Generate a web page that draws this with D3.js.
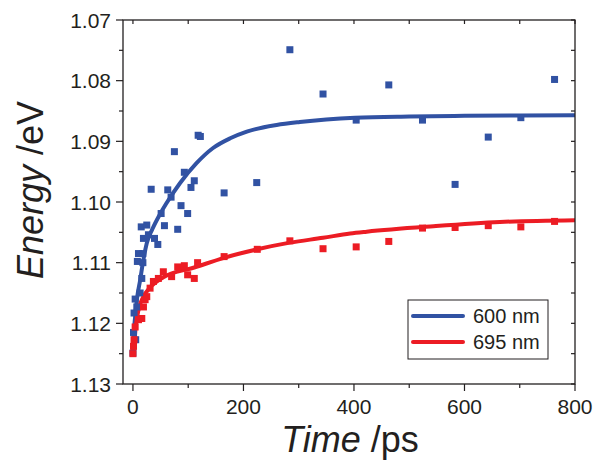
<!DOCTYPE html>
<head>
<meta charset='utf-8'>
<style>
  body { margin: 0; background: #fff; font-family: Arial, 'Liberation Sans', sans-serif; }
  .tick-label { font-size: 21px; fill: #231f20; }
</style>
</head>
<body>
<div id='vis'></div>
<script src='https://d3js.org/d3.v7.min.js'></script>
<script>
  // 600 nm data points
  const blueTime   = [0, 1, 5, 2, 4, 7, 13, 16, 8, 10, 18, 18, 15, 25, 19, 28, 39, 45, 33, 51, 57, 63, 69, 75, 81, 87, 93, 99, 105, 111, 118, 122, 165, 224, 284, 344, 404, 463, 524, 583, 643, 702, 763]
  const blueEnergy = [1.1249, 1.1215, 1.1227, 1.1183, 1.1160, 1.1173, 1.1150, 1.1126, 1.1098, 1.1085, 1.1085, 1.1100, 1.1041, 1.1038, 1.1060, 1.1054, 1.1060, 1.1070, 1.0979, 1.1019, 1.1039, 1.0980, 1.0992, 1.0917, 1.1045, 1.1006, 1.0951, 1.1019, 1.0976, 1.0965, 1.0890, 1.0892, 1.0985, 1.0968, 1.0749, 1.0822, 1.0865, 1.0807, 1.0865, 1.0971, 1.0893, 1.0861, 1.0798]

  // 695 nm data points
  const redTime   = [0, 1, 2, 4, 10, 16, 19, 22, 25, 31, 37, 46, 55, 70, 81, 93, 99, 111, 117, 165, 225, 284, 344, 404, 463, 524, 583, 643, 702, 763]
  const redEnergy = [1.1250, 1.1238, 1.1227, 1.1206, 1.1194, 1.1192, 1.1173, 1.1161, 1.1156, 1.1142, 1.1131, 1.1126, 1.1115, 1.1123, 1.1107, 1.1105, 1.1120, 1.1126, 1.1100, 1.1090, 1.1078, 1.1064, 1.1077, 1.1074, 1.1065, 1.1043, 1.1042, 1.1039, 1.1041, 1.1032]

  // fitted curves
  const blueFitTime   = [0, 1, 4, 8, 13, 18, 25, 35, 49, 60, 85, 115, 145, 176, 206, 260, 302, 402, 500, 600, 800]
  const blueFitEnergy = [1.1250, 1.1225, 1.1189, 1.1155, 1.1129, 1.1100, 1.1068, 1.1045, 1.1020, 1.1003, 1.0969, 1.0936, 1.0911, 1.0895, 1.0884, 1.0873, 1.0868, 1.0861, 1.0859, 1.0858, 1.0857]
  const redFitTime   = [0, 2, 5, 10, 19, 31, 55, 111, 165, 225, 284, 344, 393, 423, 544, 664, 800]
  const redFitEnergy = [1.1252, 1.1238, 1.1206, 1.1178, 1.1156, 1.1141, 1.1124, 1.1108, 1.1092, 1.1078, 1.1067, 1.1059, 1.1052, 1.1049, 1.1040, 1.1033, 1.1030]

  const xTicks = [0, 200, 400, 600, 800]
  const yTicks = [1.07, 1.08, 1.09, 1.10, 1.11, 1.12, 1.13]
  const seriesNames = ['600 nm', '695 nm']
  const colours = ['#3152a3', '#ec1c24']

  const W = 593, H = 461
  const x = d3.scaleLinear().domain([-18, 800]).range([123, 575])
  const y = d3.scaleLinear().domain([1.07, 1.13]).range([20, 384])

  const svg = d3.select('#vis').append('svg')
    .attr('width', W)
    .attr('height', H)

  const zip = (a, b) => a.map((v, i) => [v, b[i]])

  // curves
  const line = d3.line()
    .x(d => x(d[0]))
    .y(d => y(d[1]))
    .curve(d3.curveMonotoneX)

  const plot = svg.append('g')
  plot.append('path')
    .attr('d', line(zip(blueFitTime, blueFitEnergy)))
    .attr('fill', 'none')
    .attr('stroke', colours[0])
    .attr('stroke-width', 4)
  plot.append('path')
    .attr('d', line(zip(redFitTime, redFitEnergy)))
    .attr('fill', 'none')
    .attr('stroke', colours[1])
    .attr('stroke-width', 4)

  // squares
  const sq = 7
  function drawPoints(pts, c) {
    plot.append('g').selectAll('rect')
      .data(pts)
      .enter()
      .append('rect')
      .attr('x', d => x(d[0]) - sq / 2)
      .attr('y', d => y(d[1]) - sq / 2)
      .attr('width', sq)
      .attr('height', sq)
      .attr('fill', c)
  }
  drawPoints(zip(blueTime, blueEnergy), colours[0])
  drawPoints(zip(redTime, redEnergy), colours[1])

  // axes
  const axisColour = '#231f20'
  const axes = svg.append('g')
  const xLeft = x.range()[0], xRight = x.range()[1]
  const yTop = y.range()[0], yBottom = y.range()[1]

  axes.append('rect')
    .attr('x', xLeft)
    .attr('y', yTop)
    .attr('width', xRight - xLeft)
    .attr('height', yBottom - yTop)
    .attr('fill', 'none')
    .attr('stroke', axisColour)
    .attr('stroke-width', 1.3)

  const xMinor = d3.range(0, 801, 100)
  const yMinor = d3.range(0, 13).map(i => 1.07 + i * 0.005)

  // bottom ticks outward, top ticks inward
  axes.selectAll('.xt').data(xMinor).enter().append('line')
    .attr('x1', d => x(d)).attr('x2', d => x(d))
    .attr('y1', yBottom).attr('y2', d => yBottom + (d % 200 === 0 ? 7 : 4))
    .attr('stroke', axisColour).attr('stroke-width', 1.2)
  axes.selectAll('.xtt').data(xMinor).enter().append('line')
    .attr('x1', d => x(d)).attr('x2', d => x(d))
    .attr('y1', yTop).attr('y2', yTop + 4)
    .attr('stroke', axisColour).attr('stroke-width', 1.2)

  // left ticks outward, right ticks inward
  axes.selectAll('.yt').data(yMinor).enter().append('line')
    .attr('y1', d => y(d)).attr('y2', d => y(d))
    .attr('x1', xLeft).attr('x2', (d, i) => xLeft - (i % 2 === 0 ? 7 : 4))
    .attr('stroke', axisColour).attr('stroke-width', 1.2)
  axes.selectAll('.ytr').data(yMinor).enter().append('line')
    .attr('y1', d => y(d)).attr('y2', d => y(d))
    .attr('x1', xRight).attr('x2', xRight - 4)
    .attr('stroke', axisColour).attr('stroke-width', 1.2)

  axes.selectAll('.xl').data(xTicks).enter().append('text')
    .attr('class', 'tick-label')
    .attr('x', d => x(d))
    .attr('y', 414)
    .attr('text-anchor', 'middle')
    .text(d => d)
  axes.selectAll('.yl').data(yTicks).enter().append('text')
    .attr('class', 'tick-label')
    .attr('x', 111)
    .attr('y', d => y(d))
    .attr('dy', '0.36em')
    .attr('text-anchor', 'end')
    .text(d => d.toFixed(2))

  // axis titles
  const xTitle = svg.append('text')
    .attr('x', 350)
    .attr('y', 452)
    .attr('text-anchor', 'middle')
    .attr('font-size', 36)
    .attr('fill', axisColour)
  xTitle.append('tspan').attr('font-style', 'italic').text('Time')
  xTitle.append('tspan').text(' /ps')

  const yTitle = svg.append('text')
    .attr('transform', 'translate(43,190) rotate(-90)')
    .attr('text-anchor', 'middle')
    .attr('font-size', 36)
    .attr('fill', axisColour)
  yTitle.append('tspan').attr('font-style', 'italic').text('Energy')
  yTitle.append('tspan').text(' /eV')

  // legend
  const legend = svg.append('g').attr('transform', 'translate(408,300)')
  legend.append('rect')
    .attr('width', 140)
    .attr('height', 59)
    .attr('fill', '#fff')
    .attr('stroke', axisColour)
    .attr('stroke-width', 1)
  seriesNames.forEach((name, i) => {
    const ly = 16 + i * 26
    legend.append('line')
      .attr('x1', 5).attr('x2', 55)
      .attr('y1', ly).attr('y2', ly)
      .attr('stroke', colours[i])
      .attr('stroke-width', 4)
      .attr('stroke-linecap', 'round')
    legend.append('text')
      .attr('x', 65)
      .attr('y', ly + 7)
      .attr('font-size', 20)
      .attr('fill', axisColour)
      .text(name)
  })
</script>
</body>
